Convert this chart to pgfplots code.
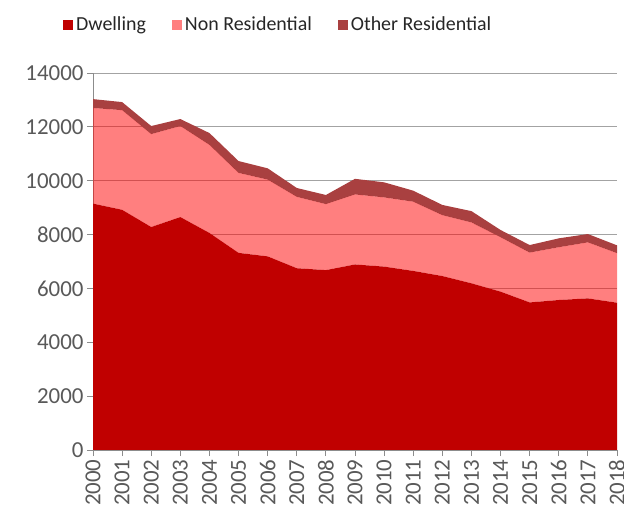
\documentclass[border=0pt]{standalone}
\usepackage{pgfplots}
\pgfplotsset{compat=1.18}
\usepackage{fontspec}
\setmainfont{Carlito}
\definecolor{dw}{HTML}{C00000}
\definecolor{nr}{HTML}{FF0000}
\definecolor{orr}{HTML}{A94040}
\definecolor{axgray}{HTML}{8C8C8C}
\definecolor{lbl}{HTML}{595959}
\pgfplotsset{layers/mylayers/.define layer set={axis background,axis grid,main,axis ticks,axis lines,axis tick labels,axis descriptions,axis foreground}{}}
\pgfplotstableread{
year dw nr or
2000 9150 3550 330
2001 8920 3700 300
2002 8280 3450 300
2003 8650 3380 260
2004 8060 3270 440
2005 7320 2970 440
2006 7190 2850 420
2007 6750 2650 330
2008 6680 2450 340
2009 6890 2600 580
2010 6810 2570 560
2011 6650 2570 410
2012 6460 2260 380
2013 6190 2260 420
2014 5880 2020 270
2015 5480 1850 280
2016 5570 1960 330
2017 5630 2080 310
2018 5470 1840 290
}\data
\begin{document}
\begin{tikzpicture}
\begin{axis}[
  scale only axis, width=524bp, height=377bp,
  xmin=2000, xmax=2018, ymin=0, ymax=14000,
  xtick={2000,2001,...,2018}, ytick={0,2000,...,14000},
  scaled y ticks=false,
  /pgf/number format/1000 sep={},
  /pgf/number format/assume math mode=true,
  x tick label style={rotate=90, anchor=east},
  ticklabel style={font=\fontsize{23}{24}\selectfont, text=lbl},
  axis x line*=bottom, axis y line*=left,
  axis line style={axgray, line width=0.9pt},
  tick style={axgray, line width=0.9pt},
  tick align=outside, major tick length=6bp,
  ymajorgrids, grid style={axgray!80, line width=0.9pt},
  stack plots=y, area style,
  axis on top=false,
  set layers=mylayers,
  legend style={at={(-0.063,1.16)}, anchor=north west, draw=none, fill=none,
    legend columns=3, font=\fontsize{20}{21}\selectfont, text=black!85,
    /tikz/every even column/.append style={column sep=24bp},
    /tikz/every odd column/.append style={column sep=1bp}},
  legend image code/.code={\fill[#1] (0bp,-5bp) rectangle (10bp,5bp);},
]
\addplot[draw=none, fill=dw] table[x=year,y=dw]{\data} \closedcycle;
\addlegendentry{Dwelling}
\addplot[draw=none, fill=nr, fill opacity=0.5] table[x=year,y=nr]{\data} \closedcycle;
\addlegendentry{Non Residential}
\addplot[draw=none, fill=orr] table[x=year,y=or]{\data} \closedcycle;
\addlegendentry{Other Residential}
\end{axis}
\pgfresetboundingbox
\path[use as bounding box] ([shift={(-93bp,-61bp)}]current axis.south west) rectangle ([shift={(7bp,73bp)}]current axis.north east);
\end{tikzpicture}
\end{document}
